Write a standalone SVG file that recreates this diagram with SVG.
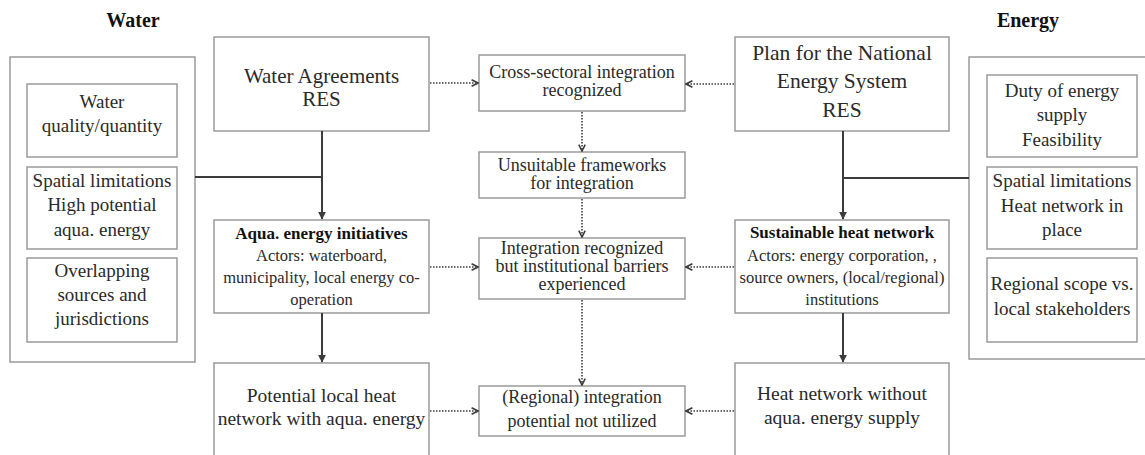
<svg xmlns="http://www.w3.org/2000/svg" width="1145" height="455" viewBox="0 0 1145 455">
  <style>
    .bg { fill: #ffffff; }
    .box { fill: #ffffff; stroke: #9a9a9a; stroke-width: 1.5; }
    .outer { fill: none; stroke: #9a9a9a; stroke-width: 1.5; }
    text { font-family: "Liberation Serif", "Times New Roman", serif; fill: #2a2a2a; text-anchor: middle; }
    .title { font-size: 20px; font-weight: bold; fill: #111; }
    .top { font-size: 21.5px; }
    .top-tight { font-size: 21px; }
    .mid { font-size: 18px; }
    .side { font-size: 19px; }
    .low { font-size: 19.5px; }
    .head { font-size: 17px; font-weight: bold; fill: #111; }
    .actor { font-size: 16.5px; }
    .solid { fill: none; stroke: #3c3c3c; stroke-width: 2; }
    .dotted { fill: none; stroke: #3c3c3c; stroke-width: 1.6; stroke-dasharray: 1.5 1.5; }
  </style>
  <defs>
    <marker id="arrowSolid" viewBox="0 0 10 10" refX="9" refY="5" markerWidth="4" markerHeight="4" orient="auto" markerUnits="strokeWidth">
      <path d="M0,0 L10,5 L0,10 z" fill="#3c3c3c"/>
    </marker>
    <marker id="arrowOpen" viewBox="0 0 10 10" refX="9" refY="5" markerWidth="5" markerHeight="5" orient="auto" markerUnits="strokeWidth">
      <path d="M1,1 L9,5 L1,9" fill="none" stroke="#3c3c3c" stroke-width="2"/>
    </marker>
  </defs>

  <rect class="bg" x="0" y="0" width="1145" height="455"/>

  <!-- column titles -->
  <text class="title" x="133" y="27">Water</text>
  <text class="title" x="1028" y="27">Energy</text>

  <!-- water-side context frame with its conditions -->
  <g id="water-context">
    <rect class="outer" x="10" y="57" width="185" height="305"/>
    <g id="water-quality">
      <rect class="box" x="27" y="84" width="150" height="73"/>
      <text class="side" x="102" y="108">Water</text>
      <text class="side" x="102" y="132">quality/quantity</text>
    </g>
    <g id="water-spatial">
      <rect class="box" x="27" y="167" width="150" height="82"/>
      <text class="side" x="102" y="187">Spatial limitations</text>
      <text class="side" x="102" y="211">High potential</text>
      <text class="side" x="102" y="236">aqua. energy</text>
    </g>
    <g id="water-overlap">
      <rect class="box" x="27" y="258" width="150" height="84"/>
      <text class="side" x="102" y="277">Overlapping</text>
      <text class="side" x="102" y="301">sources and</text>
      <text class="side" x="102" y="325">jurisdictions</text>
    </g>
  </g>

  <!-- energy-side context frame (runs off the right edge) -->
  <g id="energy-context">
    <path class="outer" d="M1150,57 H969 V359 H1150"/>
    <g id="energy-duty">
      <rect class="box" x="987" y="75" width="150" height="82"/>
      <text class="side" x="1062" y="97">Duty of energy</text>
      <text class="side" x="1062" y="121">supply</text>
      <text class="side" x="1062" y="146">Feasibility</text>
    </g>
    <g id="energy-spatial">
      <rect class="box" x="987" y="167" width="150" height="82"/>
      <text class="side" x="1062" y="187">Spatial limitations</text>
      <text class="side" x="1062" y="212">Heat network in</text>
      <text class="side" x="1062" y="236">place</text>
    </g>
    <g id="energy-scope">
      <rect class="box" x="987" y="258" width="150" height="84"/>
      <text class="side" x="1062" y="290">Regional scope vs.</text>
      <text class="side" x="1062" y="315">local stakeholders</text>
    </g>
  </g>

  <!-- left column -->
  <g id="water-agreements">
    <rect class="box" x="214" y="37" width="215" height="94"/>
    <text class="top-tight" x="321.5" y="83">Water Agreements</text>
    <text class="top-tight" x="321.5" y="106">RES</text>
  </g>
  <g id="aqua-initiatives">
    <rect class="box" x="214" y="220" width="215" height="93"/>
    <text class="head" x="321.5" y="239">Aqua. energy initiatives</text>
    <text class="actor" x="321.5" y="261">Actors: waterboard,</text>
    <text class="actor" x="321.5" y="283">municipality, local energy co-</text>
    <text class="actor" x="321.5" y="305">operation</text>
  </g>
  <g id="local-heat-network">
    <path class="box" d="M214,460 V363 H429 V460"/>
    <text class="low" x="321.5" y="402">Potential local heat</text>
    <text class="low" x="321.5" y="425">network with aqua. energy</text>
  </g>

  <!-- middle column -->
  <g id="cross-sectoral">
    <rect class="box" x="479" y="55" width="206" height="56"/>
    <text class="mid" x="582" y="78">Cross-sectoral integration</text>
    <text class="mid" x="582" y="96">recognized</text>
  </g>
  <g id="unsuitable-frameworks">
    <rect class="box" x="479" y="152" width="206" height="46"/>
    <text class="mid" x="582" y="171">Unsuitable frameworks</text>
    <text class="mid" x="582" y="189">for integration</text>
  </g>
  <g id="institutional-barriers">
    <rect class="box" x="479" y="238" width="206" height="61"/>
    <text class="mid" x="582" y="254">Integration recognized</text>
    <text class="mid" x="582" y="272">but institutional barriers</text>
    <text class="mid" x="582" y="290">experienced</text>
  </g>
  <g id="potential-not-utilized">
    <rect class="box" x="479" y="386" width="206" height="50"/>
    <text class="mid" x="582" y="403">(Regional) integration</text>
    <text class="mid" x="582" y="427">potential not utilized</text>
  </g>

  <!-- right column -->
  <g id="national-energy-plan">
    <rect class="box" x="735" y="37" width="214" height="94"/>
    <text class="top" x="842" y="60">Plan for the National</text>
    <text class="top" x="842" y="88">Energy System</text>
    <text class="top" x="842" y="117">RES</text>
  </g>
  <g id="sustainable-heat-network">
    <rect class="box" x="735" y="220" width="214" height="93"/>
    <text class="head" x="842" y="238">Sustainable heat network</text>
    <text class="actor" x="842" y="261">Actors: energy corporation, ,</text>
    <text class="actor" x="842" y="283">source owners, (local/regional)</text>
    <text class="actor" x="842" y="305">institutions</text>
  </g>
  <g id="heat-network-no-aqua">
    <path class="box" d="M735,460 V363 H949 V460"/>
    <text class="low" x="842" y="400">Heat network without</text>
    <text class="low" x="842" y="424">aqua. energy supply</text>
  </g>

  <!-- connectors -->
  <g id="connectors">
    <!-- solid: policy to initiative to outcome -->
    <line class="solid" x1="195" y1="177" x2="322" y2="177"/>
    <line class="solid" x1="322" y1="131" x2="322" y2="219" marker-end="url(#arrowSolid)"/>
    <line class="solid" x1="322" y1="313" x2="322" y2="362" marker-end="url(#arrowSolid)"/>
    <line class="solid" x1="969" y1="178" x2="843" y2="178"/>
    <line class="solid" x1="843" y1="131" x2="843" y2="219" marker-end="url(#arrowSolid)"/>
    <line class="solid" x1="843" y1="313" x2="843" y2="362" marker-end="url(#arrowSolid)"/>

    <!-- dotted: integration observations -->
    <line class="dotted" x1="430" y1="83" x2="478" y2="83" marker-end="url(#arrowOpen)"/>
    <line class="dotted" x1="734" y1="84" x2="686" y2="84" marker-end="url(#arrowOpen)"/>
    <line class="dotted" x1="582" y1="112" x2="582" y2="151" marker-end="url(#arrowOpen)"/>
    <line class="dotted" x1="582" y1="199" x2="582" y2="237" marker-end="url(#arrowOpen)"/>
    <line class="dotted" x1="430" y1="267" x2="478" y2="267" marker-end="url(#arrowOpen)"/>
    <line class="dotted" x1="734" y1="267" x2="686" y2="267" marker-end="url(#arrowOpen)"/>
    <line class="dotted" x1="582" y1="300" x2="582" y2="385" marker-end="url(#arrowOpen)"/>
    <line class="dotted" x1="430" y1="411" x2="478" y2="411" marker-end="url(#arrowOpen)"/>
    <line class="dotted" x1="734" y1="411" x2="686" y2="411" marker-end="url(#arrowOpen)"/>
  </g>
</svg>
